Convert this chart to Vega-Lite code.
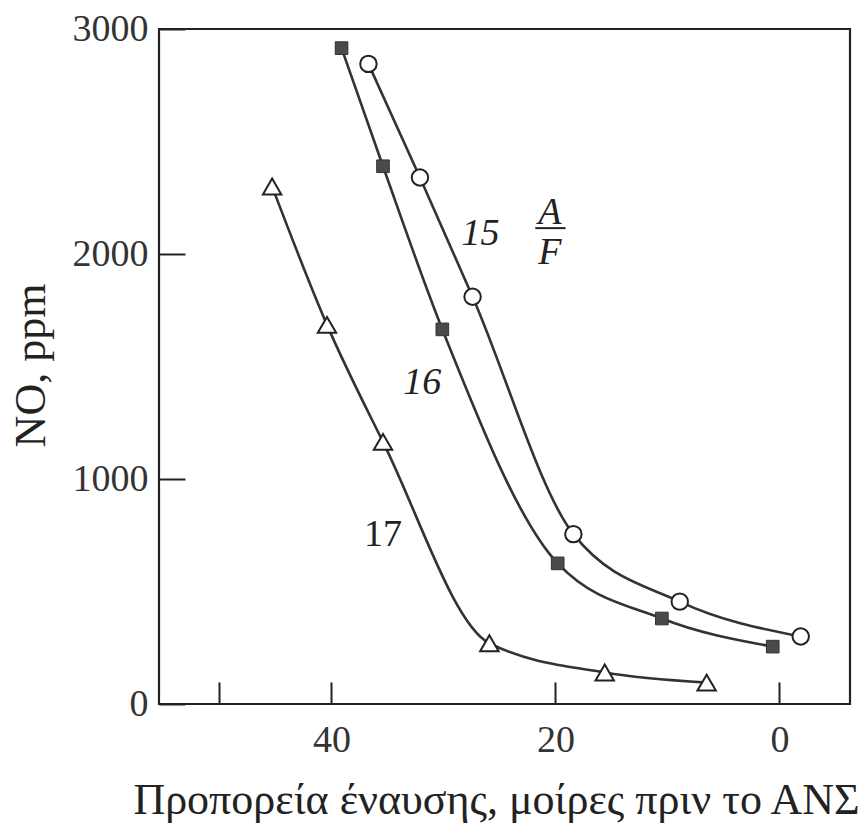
{
  "$schema": "https://vega.github.io/schema/vega-lite/v6.json",
  "width": 691,
  "height": 675,
  "autosize": {"type": "none"},
  "padding": {"left": 159, "top": 29, "right": 15, "bottom": 121},
  "background": "white",
  "config": {
    "view": {"stroke": "#222", "strokeWidth": 2.2},
    "font": "Liberation Serif",
    "axis": {
      "domain": false,
      "grid": false,
      "tickColor": "#222",
      "tickWidth": 2,
      "labelColor": "#333",
      "titleColor": "#222",
      "labelFont": "Liberation Serif",
      "titleFont": "Liberation Serif",
      "labelFontSize": 38,
      "titleFontWeight": "normal"
    }
  },
  "datasets": {
    "curves": [
      {"af": "15", "deg": 36.7, "no": 2845},
      {"af": "15", "deg": 32.1, "no": 2340},
      {"af": "15", "deg": 27.4, "no": 1810},
      {"af": "15", "deg": 18.4, "no": 755},
      {"af": "15", "deg": 8.9, "no": 455},
      {"af": "15", "deg": -1.9, "no": 300},
      {"af": "16", "deg": 39.1, "no": 2915},
      {"af": "16", "deg": 35.4, "no": 2390},
      {"af": "16", "deg": 30.1, "no": 1665},
      {"af": "16", "deg": 19.8, "no": 625},
      {"af": "16", "deg": 10.5, "no": 380},
      {"af": "16", "deg": 0.6, "no": 255},
      {"af": "17", "deg": 45.3, "no": 2300},
      {"af": "17", "deg": 40.4, "no": 1685},
      {"af": "17", "deg": 35.4, "no": 1165},
      {"af": "17", "deg": 25.9, "no": 270},
      {"af": "17", "deg": 15.6, "no": 140},
      {"af": "17", "deg": 6.5, "no": 95}
    ],
    "labels": [
      {"deg": 26.7, "no": 2089, "text": "15", "italic": true},
      {"deg": 31.9, "no": 1427, "text": "16", "italic": true},
      {"deg": 35.4, "no": 751, "text": "17", "italic": false},
      {"deg": 20.5, "no": 2182, "text": "A", "italic": true},
      {"deg": 20.5, "no": 2004, "text": "F", "italic": true}
    ],
    "bar": [
      {"deg": 21.8, "deg2": 19.1, "no": 2115}
    ]
  },
  "layer": [
    {
      "data": {"name": "curves"},
      "mark": {"type": "line", "interpolate": "monotone", "stroke": "#333", "strokeWidth": 2.6},
      "encoding": {
        "x": {
          "field": "deg",
          "type": "quantitative",
          "scale": {"domain": [-6.3, 55.4], "reverse": true, "nice": false, "zero": false},
          "axis": {
            "values": [50, 40, 20, 0],
            "format": "d",
            "labelExpr": "datum.value == 50 ? '' : datum.label",
            "tickSize": -22,
            "labelPadding": 39,
            "title": "Προπορεία έναυσης, μοίρες πριν το ΑΝΣ",
            "titleFontSize": 44,
            "titleBaseline": "middle",
            "titleY": 96,
            "titleX": 337
          }
        },
        "y": {
          "field": "no",
          "type": "quantitative",
          "scale": {"domain": [0, 3000], "nice": false},
          "axis": {
            "values": [0, 1000, 2000, 3000],
            "format": "d",
            "tickSize": -26,
            "labelPadding": 37,
            "title": "NO, ppm",
            "titleFontSize": 44,
            "titleBaseline": "middle",
            "titleX": -128,
            "titleY": 336
          }
        },
        "detail": {"field": "af"},
        "order": {"field": "deg", "sort": "descending"}
      }
    },
    {
      "data": {"name": "curves"},
      "transform": [{"filter": "datum.af == '15'"}],
      "mark": {"type": "point", "shape": "circle", "filled": true, "fill": "white", "stroke": "#222", "strokeWidth": 2, "size": 270, "opacity": 1},
      "encoding": {
        "x": {"field": "deg", "type": "quantitative"},
        "y": {"field": "no", "type": "quantitative"}
      }
    },
    {
      "data": {"name": "curves"},
      "transform": [{"filter": "datum.af == '16'"}],
      "mark": {"type": "point", "shape": "square", "filled": true, "fill": "#4a4a4a", "stroke": "#333", "strokeWidth": 1, "size": 160, "opacity": 1},
      "encoding": {
        "x": {"field": "deg", "type": "quantitative"},
        "y": {"field": "no", "type": "quantitative"}
      }
    },
    {
      "data": {"name": "curves"},
      "transform": [{"filter": "datum.af == '17'"}],
      "mark": {"type": "point", "shape": "triangle-up", "filled": true, "fill": "white", "stroke": "#222", "strokeWidth": 2, "size": 340, "opacity": 1},
      "encoding": {
        "x": {"field": "deg", "type": "quantitative"},
        "y": {"field": "no", "type": "quantitative"}
      }
    },
    {
      "data": {"name": "labels"},
      "transform": [{"filter": "datum.italic"}],
      "mark": {"type": "text", "font": "Liberation Serif", "fontStyle": "italic", "fontSize": 38, "color": "#222", "align": "center", "baseline": "middle"},
      "encoding": {
        "x": {"field": "deg", "type": "quantitative"},
        "y": {"field": "no", "type": "quantitative"},
        "text": {"field": "text"}
      }
    },
    {
      "data": {"name": "labels"},
      "transform": [{"filter": "!datum.italic"}],
      "mark": {"type": "text", "font": "Liberation Serif", "fontSize": 38, "color": "#222", "align": "center", "baseline": "middle"},
      "encoding": {
        "x": {"field": "deg", "type": "quantitative"},
        "y": {"field": "no", "type": "quantitative"},
        "text": {"field": "text"}
      }
    },
    {
      "data": {"name": "bar"},
      "mark": {"type": "rule", "stroke": "#222", "strokeWidth": 2},
      "encoding": {
        "x": {"field": "deg", "type": "quantitative"},
        "x2": {"field": "deg2"},
        "y": {"field": "no", "type": "quantitative"}
      }
    }
  ]
}
